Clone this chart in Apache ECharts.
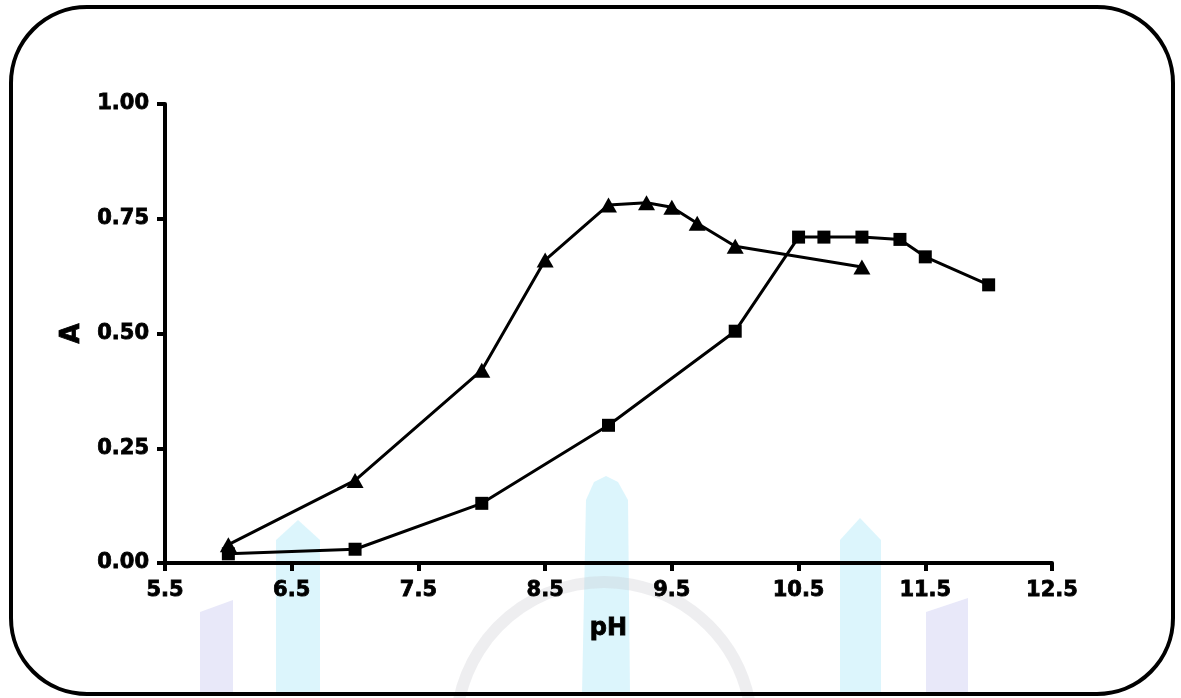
<!DOCTYPE html>
<html>
<head>
<meta charset="utf-8">
<script src="https://cdn.jsdelivr.net/npm/echarts@6/dist/echarts.min.js"></script>
<style>
html,body{margin:0;padding:0;background:#fff;}
#chart{width:1181px;height:698px;}
</style>
</head>
<body>
<div id="chart"></div>
<script>
// ---- data ----
const phTriangle = [6.0, 7.0, 8.0, 8.5, 9.0, 9.3, 9.5, 9.7, 10.0, 11.0];
const aTriangle  = [0.04, 0.18, 0.42, 0.66, 0.78, 0.785, 0.775, 0.74, 0.69, 0.645];
const phSquare   = [6.0, 7.0, 8.0, 9.0, 10.0, 10.5, 10.7, 11.0, 11.3, 11.5, 12.0];
const aSquare    = [0.02, 0.03, 0.13, 0.30, 0.505, 0.71, 0.71, 0.71, 0.705, 0.667, 0.606];
const xTickLabels = ['5.5','6.5','7.5','8.5','9.5','10.5','11.5','12.5'];
const yTickLabels = ['0.00','0.25','0.50','0.75','1.00'];
const xName = 'pH';
const yName = 'A';

// x axis starts at 5.5 with ticks every 1 pH unit: offset so min is a multiple of interval
const X0 = parseFloat(xTickLabels[0]);
const X1 = parseFloat(xTickLabels[xTickLabels.length - 1]);
const toPairs = (xs, ys) => xs.map((x, i) => [x - X0, ys[i]]);

const FONT = '"DejaVu Sans", sans-serif';
const chart = echarts.init(document.getElementById('chart'), null, {renderer: 'canvas'});

const wm = (shape, fill) => ({type: 'polygon', silent: true, z: 0, shape: {points: shape}, style: {fill: fill}});
const heavy = {textBorderColor: '#000', textBorderWidth: 0.8};

chart.setOption({
  animation: false,
  backgroundColor: '#ffffff',
  graphic: [
    // faint watermark shapes in the background
    wm([[200,612],[233,600],[233,694],[200,694]], 'rgba(205,203,242,0.45)'),
    wm([[276,540],[298,520],[320,540],[320,694],[276,694]], 'rgba(185,235,250,0.5)'),
    wm([[586,500],[594,482],[606,476],[618,482],[628,500],[630,694],[582,694]], 'rgba(185,235,250,0.5)'),
    wm([[840,540],[860,518],[881,540],[881,694],[840,694]], 'rgba(185,235,250,0.5)'),
    wm([[926,612],[968,598],[968,694],[926,694]], 'rgba(205,203,242,0.45)'),
    {type: 'arc', silent: true, z: 0, shape: {cx: 604, cy: 730, r: 148, startAngle: Math.PI * 1.06, endAngle: Math.PI * 1.94},
     style: {stroke: 'rgba(200,200,205,0.3)', lineWidth: 12, fill: null}},
    // rounded frame
    {type: 'rect', silent: true, z: 100, shape: {x: 11, y: 7, width: 1162, height: 687, r: 76},
     style: {fill: null, stroke: '#000', lineWidth: 4}}
  ],
  grid: {left: 165, right: 129, top: 104, bottom: 135, containLabel: false},
  xAxis: {
    type: 'value', min: 0, max: X1 - X0, interval: 1,
    name: xName, nameLocation: 'middle', nameGap: 54,
    nameTextStyle: Object.assign({fontFamily: FONT, fontWeight: 'bold', fontSize: 24, color: '#000'}, heavy),
    axisLine: {show: true, onZero: false, lineStyle: {color: '#000', width: 4}},
    axisTick: {show: true, inside: false, length: 8, lineStyle: {color: '#000', width: 4}},
    axisLabel: Object.assign({margin: 17, fontFamily: FONT, fontWeight: 'bold', fontSize: 21, color: '#000',
      formatter: v => xTickLabels[Math.round(v)] ?? ''}, heavy),
    splitLine: {show: false}
  },
  yAxis: {
    type: 'value', min: 0, max: 1, interval: 0.25,
    name: yName, nameLocation: 'middle', nameGap: 80, nameRotate: 90,
    nameTextStyle: Object.assign({fontFamily: FONT, fontWeight: 'bold', fontSize: 26, color: '#000'}, heavy),
    axisLine: {show: true, onZero: false, lineStyle: {color: '#000', width: 4}},
    axisTick: {show: true, inside: false, length: 8, lineStyle: {color: '#000', width: 4}},
    axisLabel: Object.assign({margin: 16, fontFamily: FONT, fontWeight: 'bold', fontSize: 21, color: '#000',
      formatter: v => yTickLabels[Math.round(v / 0.25)] ?? ''}, heavy),
    splitLine: {show: false}
  },
  series: [
    {
      type: 'line', name: 'triangle', data: toPairs(phTriangle, aTriangle),
      symbol: 'triangle', symbolSize: [17, 15], showAllSymbol: true, z: 5,
      lineStyle: {color: '#000', width: 3}, itemStyle: {color: '#000', borderWidth: 0}
    },
    {
      type: 'line', name: 'square', data: toPairs(phSquare, aSquare),
      symbol: 'rect', symbolSize: 13, showAllSymbol: true, z: 5,
      lineStyle: {color: '#000', width: 3}, itemStyle: {color: '#000', borderWidth: 0}
    }
  ]
});
</script>
</body>
</html>
